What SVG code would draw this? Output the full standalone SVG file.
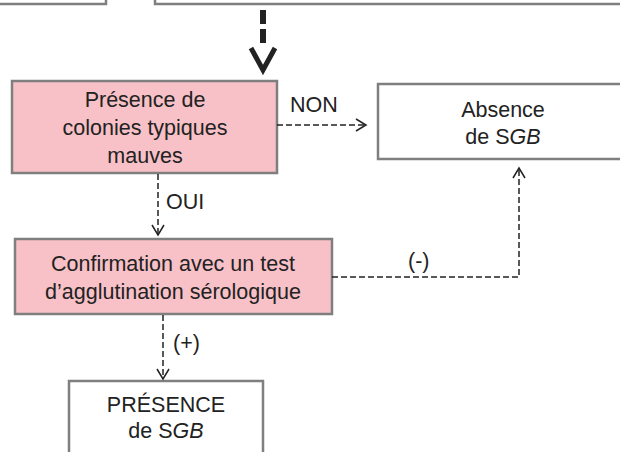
<svg xmlns="http://www.w3.org/2000/svg" width="620" height="452" viewBox="0 0 620 452">
<style>
.box{fill:#ffffff;stroke:#7f7f7f;stroke-width:2.5}
.pink{fill:#f8c1c7;stroke:#7f7f7f;stroke-width:2.5}
.t{font-family:"Liberation Sans",Arial,sans-serif;font-size:21.5px;fill:#222;text-anchor:middle}
.lbl{font-family:"Liberation Sans",Arial,sans-serif;font-size:21.5px;fill:#222}
.dash{fill:none;stroke:#222;stroke-width:1.5;stroke-dasharray:6 3}
</style>
<defs>
<marker id="chev" markerUnits="userSpaceOnUse" markerWidth="14" markerHeight="16" viewBox="0 0 14 16" refX="12" refY="8" orient="auto">
<path d="M2,2 L12,8 L2,14" fill="none" stroke="#222" stroke-width="1.5"/>
</marker>
</defs>
<g id="top-left"><rect class="box" x="-10" y="-50" width="116" height="54"/></g>
<g id="top-right"><rect class="box" x="155" y="-50" width="480" height="54"/></g>
<g id="presence-colonies">
<rect class="pink" x="12" y="81" width="265" height="92"/>
<text class="t" x="145" y="107">Présence de</text>
<text class="t" x="145" y="135">colonies typiques</text>
<text class="t" x="145" y="163">mauves</text>
</g>
<g id="absence">
<rect class="box" x="378" y="84" width="255" height="75"/>
<text class="t" x="503" y="117">Absence</text>
<text class="t" x="503" y="144">de S<tspan font-style="italic">GB</tspan></text>
</g>
<g id="confirmation">
<rect class="pink" x="15" y="239" width="317" height="75"/>
<text class="t" x="173" y="271">Confirmation avec un test</text>
<text class="t" x="173" y="299">d’agglutination sérologique</text>
</g>
<g id="presence-sgb">
<rect class="box" x="69" y="381" width="194" height="90"/>
<text class="t" x="166" y="412">PRÉSENCE</text>
<text class="t" x="166" y="438">de S<tspan font-style="italic">GB</tspan></text>
</g>
<g id="connectors">
<line x1="263" y1="10" x2="263" y2="43" stroke="#222" stroke-width="6" stroke-dasharray="14 5"/>
<polyline points="251,48 263,70 275,48" fill="none" stroke="#222" stroke-width="5"/>
<line class="dash" x1="277" y1="125" x2="366" y2="125" marker-end="url(#chev)"/>
<text class="lbl" x="290" y="112">NON</text>
<line class="dash" x1="158" y1="174" x2="158" y2="235" marker-end="url(#chev)"/>
<text class="lbl" x="166" y="209">OUI</text>
<polyline class="dash" points="332,277 519,277 519,168" marker-end="url(#chev)"/>
<text class="lbl" x="408" y="268">(-)</text>
<line class="dash" x1="163" y1="315" x2="163" y2="379" marker-end="url(#chev)"/>
<text class="lbl" x="173" y="350">(+)</text>
</g>
</svg>
